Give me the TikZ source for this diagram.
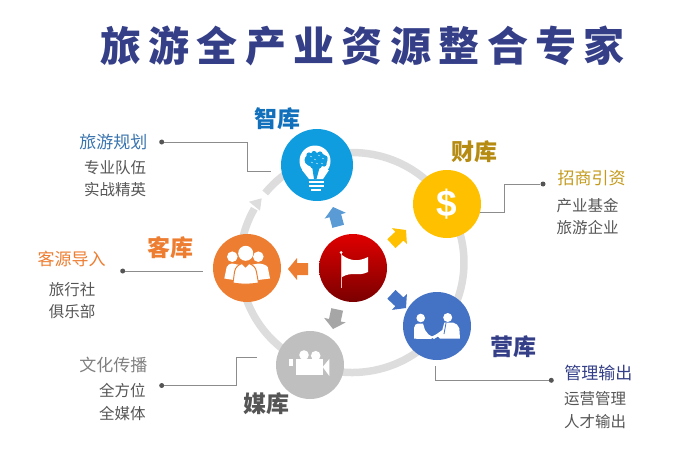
\documentclass[tikz,border=0pt]{standalone}
\usepackage{fontspec}
\newfontfamily\cjk{Noto Sans CJK SC}
\newfontfamily\cjktitle[LetterSpace=18]{Noto Sans CJK SC}
\newfontfamily\dollarfont{Liberation Sans}
\definecolor{titleblue}{HTML}{343F88}
\definecolor{ringgray}{HTML}{DDDDDD}
\definecolor{zhiblue}{HTML}{0F9DDF}
\definecolor{zhitext}{HTML}{1070BB}
\definecolor{zhihead}{HTML}{3B75AF}
\definecolor{zhiarrow}{HTML}{5B9BD5}
\definecolor{caiyellow}{HTML}{FFC000}
\definecolor{caitext}{HTML}{B58B12}
\definecolor{caihead}{HTML}{C49A1C}
\definecolor{keorange}{HTML}{ED7D31}
\definecolor{yingblue}{HTML}{4472C4}
\definecolor{meigray}{HTML}{BFBFBF}
\definecolor{meiarrow}{HTML}{A6A6A6}
\definecolor{linegray}{HTML}{8C8C8C}
\definecolor{textgray}{HTML}{555555}
\tikzset{
	hub/.style={circle,minimum size=68pt,inner sep=0pt},
	ring/.style={ringgray,line width=7.5pt},
	leader/.style={linegray,line width=0.9pt},
	dotmark/.style={circle,fill=textgray,minimum size=5pt,inner sep=0pt},
	kulabel/.style={font=\cjk\bfseries\fontsize{23}{23}\selectfont},
	headlabel/.style={font=\cjk\fontsize{17}{17}\selectfont},
	sublabel/.style={font=\cjk\fontsize{15.5}{16}\selectfont,text=textgray},
	blockarrow/.pic={\fill[pic actions] (0,0) -- (-9,11) -- (-9,6) -- (-20,6) -- (-20,-6) -- (-9,-6) -- (-9,-11) -- cycle;}
}
\begin{document}
\begin{tikzpicture}[x=1pt,y=-1pt]
	\useasboundingbox (0,0) rectangle (700,463);

	\node[font=\cjktitle\bfseries\fontsize{41}{41}\selectfont,text=titleblue] (title) at (362.5,46) {旅游全产业资源整合专家};

	% ring
	\draw[ring] (265.2,193) arc[start angle=140.8,end angle=-209.3,x radius=112pt,y radius=110pt];
	\fill[ringgray] (261.7,198.3) -- (249,201.7) -- (260,210.7) -- cycle;

	% hubs
	\node[hub,minimum size=72pt,fill=zhiblue] (zhi) at (317,165) {};
	\node[hub,fill=caiyellow,text=white,font=\dollarfont\bfseries\fontsize{37}{37}\selectfont] (cai) at (447,204) {\$};
	\node[hub,fill=keorange] (ke) at (247,268) {};
	\node[hub,fill=yingblue] (ying) at (437,326) {};
	\node[hub,fill=meigray] (mei) at (310,365) {};
	\node[hub,top color=red!88!black,middle color=red!82!black,bottom color=red!48!black] (flag) at (353,268) {};

	% arrows
	\pic[fill=keorange,rotate=180] at (288,269) {blockarrow};
	\pic[fill=zhiarrow,rotate=105] at (333,207) {blockarrow};
	\pic[fill=caiyellow,rotate=43] at (406,230) {blockarrow};
	\pic[fill=yingblue,rotate=-43] at (406,308) {blockarrow};
	\pic[fill=meiarrow,rotate=258] at (333,329) {blockarrow};

	% bulb
	\fill[white] (315,161) circle (15.5);
	\fill[white] (302,170) -- (329,170) -- (323,179) -- (309,179) -- cycle;
	\foreach \y/\a/\b in {181.5/308.5/323.5,185.5/308.5/323.5,189.5/311/321} \draw[white,line width=2pt] (\a,\y) -- (\b,\y);
	\fill[zhiblue] (316,160) ellipse (11.5 and 7.5);
	\foreach \x/\y in {309/155,314/153.5,320/154,325/158,308/162,324/164,313/166,319/166} \fill[zhiblue] (\x,\y) circle (2.6);
	\fill[zhiblue] (312,166) -- (320,166) -- (316.5,179) -- (314,179) -- cycle;
	\foreach \x/\y in {310/156,314/159,318/155,322/158,311/162,316/163,321/163} \draw[white,line width=0.4pt] (\x,\y) -- ++(2,1);

	% people
	\fill[white] (232.3,256.7) circle (5.3);
	\fill[white] (258.3,256.7) circle (5.3);
	\fill[white] (224.3,278.5) -- (226.7,267) .. controls (227.5,265) and (230,263.5) .. (232,263.5) -- (240,265) -- (240,281) -- cycle;
	\fill[white] (270,278.5) -- (267.7,267) .. controls (267,265) and (261,263.5) .. (258.5,263.5) -- (250,265) -- (250,281) -- cycle;
	\draw[keorange,fill=white,line width=1pt] (233,283) -- (234.5,272) .. controls (235,267) and (239,264.5) .. (242,263.5) -- (245.5,267) -- (249,263.5) .. controls (252,264.5) and (256,267) .. (256.5,272) -- (258.5,283) .. controls (250,284.5) and (241,284.5) .. (233,283) -- cycle;
	\fill[white] (245.7,253.3) circle (7.5);

	% handshake
	\fill[white] (420.7,318) circle (4.3);
	\fill[white] (447.7,317.5) circle (4.5);
	\fill[white] (414,338.7) -- (414,328) .. controls (414.5,325) and (416,323.5) .. (418,323.5) -- (423,323.5) -- (425,330) -- (428.5,334.5) -- (433,337) -- (431,339) -- cycle;
	\fill[white] (460,338.7) -- (459.3,328.3) .. controls (458.5,325) and (456,323.5) .. (453.3,322.7) -- (444.3,322.7) -- (442.3,330) -- (436.7,334) -- (431,337) -- (434,339) -- (438,336.5) -- (440,338.7) -- cycle;
	\draw[yingblue,line width=0.8pt] (446,323) -- (444,334);

	% camera
	\fill[white] (304,355) circle (4.8);
	\fill[white] (315.7,355.7) circle (4.8);
	\fill[white] (296,359) rectangle (322.7,375);
	\fill[white] (322.7,367) -- (329.3,359) -- (329.3,376) -- cycle;
	\fill[white] (289.3,359) rectangle (293.3,365.7);

	% flag
	\draw[white!75!red,line width=0.8pt] (341,253) -- (341,288);
	\fill[white] (341,252.5) circle (1.5);
	\fill[white] (342,255) .. controls (350,261) and (358,262) .. (368,257) -- (368,272) .. controls (358,277) and (352,271) .. (342,277) -- cycle;

	% leaders
	\node[dotmark] (dotzhi) at (161.7,142) {};
	\node[dotmark] (dotcai) at (543,184) {};
	\node[dotmark] (dotke) at (122.7,271) {};
	\node[dotmark] (dotmei) at (161.7,385.5) {};
	\node[dotmark] (dotying) at (551.3,380.3) {};
	\coordinate (zhibend) at (247.7,171);
	\coordinate (zhiend) at (271,171);
	\coordinate (caibend) at (504.7,212.7);
	\coordinate (caiend) at (480,212.7);
	\coordinate (keend) at (202.7,271);
	\coordinate (meibend) at (236.7,357);
	\coordinate (meiend) at (257,357);
	\coordinate (yingend) at (435.7,365.7);
	\draw[leader] (dotzhi) -| (zhibend) -- (zhiend);
	\draw[leader] (dotcai) -| (caibend) -- (caiend);
	\draw[leader] (dotke) -- (keend);
	\draw[leader] (dotmei) -| (meibend) -- (meiend);
	\draw[leader] (dotying) -| (yingend);

	% labels
	\node[kulabel,text=zhitext] (zhiname) at (277.7,119) {智库};
	\node[kulabel,text=caitext] (ciname) at (474,152) {财库};
	\node[kulabel,text=keorange] (kename) at (170,247.7) {客库};
	\node[kulabel,text=textgray] (meiname) at (266.7,404) {媒库};
	\node[kulabel,text=titleblue] (yingname) at (513,346.7) {营库};

	\node[headlabel,text=zhihead] (zhititle) at (113.3,142.3) {旅游规划};
	\node[sublabel] (zhisuba) at (115,167.7) {专业队伍};
	\node[sublabel] (zhisubb) at (115,189.3) {实战精英};

	\node[headlabel,text=keorange] (kehead) at (71.7,259) {客源导入};
	\node[sublabel] (kesuba) at (72,290) {旅行社};
	\node[sublabel] (kesubb) at (72,311.7) {俱乐部};

	\node[headlabel,text=gray] (meihead) at (113.3,365) {文化传播};
	\node[sublabel] (meisuba) at (122.3,390.7) {全方位};
	\node[sublabel] (meisubb) at (122.3,413.3) {全媒体};

	\node[headlabel,text=caihead] (caititle) at (591.7,178.3) {招商引资};
	\node[sublabel] (caisuba) at (587.7,205.7) {产业基金};
	\node[sublabel] (caisubb) at (587.7,227.7) {旅游企业};

	\node[headlabel,text=titleblue] (yinghead) at (598.3,372.7) {管理输出};
	\node[sublabel] (yingsuba) at (595,398.3) {运营管理};
	\node[sublabel] (yingsubb) at (595,421.7) {人才输出};
\end{tikzpicture}
\end{document}
